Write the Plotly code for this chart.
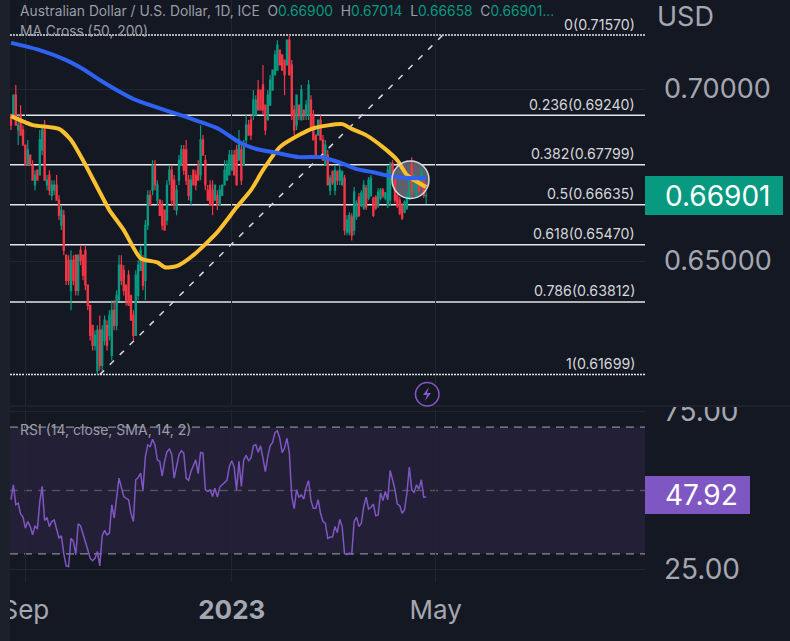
import pandas as pd
import plotly.graph_objects as go

# Daily AUD/USD session values
opens = [
    .6924, .6924, .6982, .6881, .6924, .6881, .6837, .6779, .6808, .6779,
    .6721, .6764, .6750, .6823, .6881, .6721, .6750, .6691, .6706, .6721,
    .6677, .6604, .6633, .6517, .6502, .6415, .6502, .6517, .6415, .6531,
    .6517, .6531, .6430, .6371, .6313, .6255, .6182, .6299, .6197, .6269,
    .6313, .6284, .6226, .6357, .6313, .6386, .6488, .6473, .6430, .6459,
    .6400, .6342, .6284, .6400, .6473, .6502, .6444, .6604, .6691, .6706,
    .6779, .6677, .6677, .6662, .6648, .6619, .6735, .6764, .6735, .6648,
    .6735, .6779, .6823, .6823, .6735, .6677, .6764, .6750, .6779, .6750,
    .6852, .6793, .6706, .6721, .6706, .6677, .6691, .6662, .6691, .6721,
    .6735, .6750, .6764, .6808, .6823, .6793, .6823, .6779, .6852, .6895,
    .6910, .6924, .6924, .6997, .6997, .7012, .6953, .6910, .6953, .6997,
    .7041, .7055, .7113, .7099, .7084, .7070, .7142, .7070, .6939, .6895,
    .6953, .6910, .6939, .6924, .6924, .6968, .6924, .6866, .6866, .6910,
    .6852, .6779, .6808, .6706, .6759, .6706, .6759, .6735, .6721, .6741,
    .6584, .6584, .6628, .6590, .6628, .6686, .6662, .6654, .6712, .6683,
    .6691, .6683, .6686, .6662, .6683, .6706, .6683, .6662, .6677, .6785,
    .6735, .6691, .6677, .6662, .6642, .6654, .6683, .6779, .6706, .6691,
    .6730, .6721, .6730, .66900,
]
highs = [
    .6924, .6982, .7012, .6924, .6953, .6895, .6837, .6852, .6808, .6793,
    .6764, .6764, .6881, .6895, .6910, .6750, .6764, .6735, .6735, .6750,
    .6691, .6662, .6648, .6517, .6517, .6531, .6517, .6517, .6517, .6546,
    .6517, .6546, .6430, .6371, .6313, .6299, .6313, .6342, .6313, .6342,
    .6328, .6357, .6386, .6386, .6415, .6517, .6517, .6488, .6430, .6473,
    .6400, .6357, .6473, .6502, .6546, .6517, .6619, .6706, .6706, .6793,
    .6793, .6735, .6677, .6677, .6648, .6735, .6779, .6779, .6750, .6721,
    .6808, .6837, .6837, .6852, .6750, .6750, .6764, .6764, .6793, .6895,
    .6866, .6808, .6721, .6735, .6735, .6721, .6706, .6721, .6721, .6793,
    .6793, .6823, .6823, .6823, .6837, .6881, .6837, .6852, .6924, .6910,
    .6924, .6997, .6982, .7026, .6997, .7070, .6953, .6997, .7041, .7055,
    .7113, .7142, .7113, .7099, .7084, .7142, .7157, .7084, .6953, .6982,
    .6953, .7012, .6939, .6968, .7026, .6982, .6939, .6866, .6910, .6924,
    .6866, .6852, .6823, .6750, .6764, .6779, .6764, .6779, .6764, .6750,
    .6633, .6642, .6639, .6715, .6677, .6698, .6706, .6735, .6721, .6744,
    .6750, .6686, .6691, .6712, .6712, .6712, .6701, .6779, .6788, .6793,
    .6744, .6698, .6686, .6668, .6677, .6698, .6741, .6802, .6756, .6741,
    .6735, .6770, .6735, .67014,
]
lows = [
    .6881, .6924, .6895, .6837, .6866, .6837, .6779, .6779, .6779, .6735,
    .6706, .6735, .6750, .6808, .6735, .6706, .6691, .6677, .6691, .6677,
    .6619, .6590, .6517, .6430, .6430, .6357, .6430, .6400, .6400, .6488,
    .6444, .6415, .6357, .6269, .6240, .6240, .6170, .6182, .6182, .6255,
    .6240, .6269, .6211, .6299, .6299, .6386, .6430, .6400, .6371, .6371,
    .6328, .6269, .6284, .6386, .6473, .6415, .6386, .6590, .6662, .6691,
    .6706, .6662, .6633, .6590, .6590, .6604, .6721, .6662, .6648, .6633,
    .6721, .6779, .6750, .6721, .6677, .6662, .6721, .6706, .6735, .6735,
    .6808, .6706, .6677, .6662, .6633, .6677, .6648, .6662, .6691, .6721,
    .6735, .6750, .6764, .6750, .6721, .6793, .6721, .6779, .6837, .6866,
    .6852, .6910, .6924, .6939, .6939, .6924, .6866, .6910, .6953, .6997,
    .7041, .7055, .7070, .7055, .6982, .7070, .7041, .6910, .6866, .6881,
    .6910, .6910, .6910, .6910, .6910, .6881, .6852, .6808, .6866, .6852,
    .6793, .6779, .6721, .6691, .6721, .6691, .6721, .6721, .6721, .6575,
    .6575, .6575, .6560, .6575, .6619, .6628, .6657, .6648, .6648, .6677,
    .6686, .6628, .6648, .6654, .6677, .6683, .6677, .6654, .6662, .6735,
    .6668, .6654, .6633, .6619, .6639, .6648, .6677, .6691, .6698, .6686,
    .6698, .6712, .6683, .66658,
]
closes = [
    .6895, .6982, .6895, .6895, .6866, .6837, .6779, .6823, .6779, .6735,
    .6750, .6735, .6852, .6881, .6735, .6735, .6706, .6721, .6721, .6677,
    .6633, .6648, .6531, .6444, .6444, .6502, .6444, .6415, .6517, .6502,
    .6459, .6430, .6371, .6284, .6255, .6284, .6299, .6197, .6299, .6328,
    .6255, .6342, .6357, .6313, .6400, .6488, .6444, .6415, .6386, .6371,
    .6328, .6284, .6459, .6488, .6531, .6430, .6604, .6691, .6662, .6779,
    .6721, .6721, .6633, .6604, .6590, .6721, .6764, .6677, .6662, .6706,
    .6793, .6823, .6764, .6735, .6691, .6735, .6721, .6721, .6735, .6852,
    .6808, .6721, .6677, .6662, .6662, .6721, .6662, .6706, .6721, .6764,
    .6779, .6808, .6808, .6750, .6721, .6852, .6735, .6837, .6895, .6866,
    .6866, .6968, .6968, .6939, .6939, .6939, .6881, .6982, .7026, .7055,
    .7099, .7128, .7070, .7055, .7041, .7142, .7041, .6924, .6881, .6982,
    .6924, .6997, .6924, .6953, .7012, .6881, .6852, .6808, .6910, .6852,
    .6793, .6837, .6721, .6741, .6727, .6764, .6735, .6764, .6759, .6590,
    .6619, .6633, .6575, .6701, .6668, .6633, .6698, .6721, .6657, .6735,
    .6741, .6633, .6654, .6701, .6706, .6689, .6698, .6764, .6779, .6741,
    .6677, .6660, .6639, .6625, .6671, .6689, .6730, .6701, .6747, .6735,
    .6704, .6759, .6691, .66901,
]

# RSI (14) per session
rsi_values = [
    47.1, 51.8, 45.5, 46.0, 42.6, 41.6, 38.1, 40.2, 38.6, 36.0,
    38.9, 37.8, 46.5, 51.3, 40.5, 41.5, 38.6, 40.2, 40.7, 37.8,
    34.9, 35.7, 30.0, 26.2, 26.0, 34.9, 33.9, 29.7, 39.5, 38.8,
    36.5, 33.9, 31.3, 28.6, 27.8, 28.6, 30.7, 26.2, 35.7, 37.4,
    36.0, 36.5, 45.5, 41.3, 47.1, 53.9, 51.0, 48.1, 47.5, 47.1,
    42.8, 40.2, 53.4, 54.1, 55.5, 50.2, 60.7, 64.4, 63.9, 66.2,
    64.4, 59.7, 59.2, 54.6, 59.2, 62.3, 63.1, 61.3, 53.9, 57.1,
    61.3, 62.6, 61.8, 53.9, 53.2, 56.0, 58.1, 59.7, 55.3, 62.0,
    61.8, 50.2, 49.7, 50.2, 48.1, 50.7, 47.9, 51.0, 51.8, 52.5,
    53.2, 57.6, 59.4, 57.4, 50.2, 59.2, 51.3, 59.7, 61.1, 59.4,
    60.2, 64.1, 64.5, 62.1, 64.1, 60.2, 56.0, 60.7, 64.1, 65.2,
    68.3, 68.9, 66.5, 62.0, 63.4, 66.5, 61.8, 48.1, 44.3, 50.2,
    47.9, 48.6, 47.3, 51.0, 53.1, 46.8, 44.4, 44.4, 47.1, 42.8,
    40.2, 39.7, 34.9, 35.3, 35.3, 38.6, 36.7, 40.9, 38.6, 30.0,
    29.7, 30.2, 29.9, 40.2, 41.6, 38.6, 39.7, 44.9, 47.9, 44.1,
    44.7, 45.7, 42.0, 42.3, 49.2, 46.8, 49.7, 47.1, 56.3, 53.4,
    50.4, 45.7, 45.2, 42.8, 43.9, 49.2, 57.4, 50.2, 49.4, 51.8,
    50.4, 53.4, 47.9, 47.92,
]

# Moving averages, listed at selected session numbers
ma200_sessions = [1, 13, 24, 31, 38, 45, 52, 59, 73, 87, 96, 102, 112, 121, 130, 135, 139, 145, 152, 159, 167, 174]
ma200_values = [.7134, .7113, .7084, .7058, .7026, .6997, .6971, .6953, .6921, .6886, .6846,
                .6828, .6814, .6802, .6802, .6793, .6784, .6767, .6758, .6747, .6741, .6741]
ma50_sessions = [1, 10, 21, 26, 31, 38, 42, 48, 55, 62, 65, 70, 77, 87, 95, 101, 106, 113,
                 121, 127, 139, 143, 149, 156, 162, 166, 174]
ma50_values = [.6921, .6895, .6884, .6852, .6793, .6700, .6648, .6590, .6508, .6496, .6482, .6485, .6517,
               .6584, .6656, .6706, .6764, .6831, .6866, .6886, .6898, .6884, .6866, .6831, .6793, .6750, .6715]

# Fibonacci retracement levels
fib_ratios = ["0", "0.236", "0.382", "0.5", "0.618", "0.786", "1"]
fib_levels = [0.71570, 0.69240, 0.67799, 0.66635, 0.65470, 0.63812, 0.61699]

trend_dates = ["2022-10-14", "2023-05-04"]
trend_prices = [0.61699, 0.71570]

price_ticks = [0.65, 0.70]
rsi_ticks = [25, 75]
rsi_bands = [30, 50, 70]
month_ticks = ["2022-09-01", "2023-01-02", "2023-05-01"]
month_labels = ["Sep", "<b>2023</b>", "May"]

sessions = pd.bdate_range("2022-08-24", periods=175)
sessions = sessions[sessions != pd.Timestamp("2022-12-26")]

BG = "#141823"
STRIP = "#1c202b"
GRID = "#212530"
UP = "#089981"
DOWN = "#f23645"
AXIS_TEXT = "#a4a7b1"
LABEL = "#9a9da6"
BADGE = "#8a55c9"
FONT = "Inter"
W, H = 790, 641


def py(pixels):
    """Vertical paper coordinate for a distance from the top of the page."""
    return 1 - pixels / H


def px(pixels):
    return pixels / W


def bolt_path(points):
    """SVG path in paper coordinates for a closed outline given in page pixels."""
    parts = [f"{px(x):.5f},{py(y):.5f}" for x, y in points]
    return "M" + " L".join(parts) + " Z"


fig = go.Figure()

fig.add_trace(go.Candlestick(
    x=sessions, open=opens, high=highs, low=lows, close=closes,
    increasing=dict(line=dict(color=UP, width=1.2), fillcolor=UP),
    decreasing=dict(line=dict(color=DOWN, width=1.2), fillcolor=DOWN),
    whiskerwidth=0, xaxis="x", yaxis="y", showlegend=False,
))
fig.add_trace(go.Scatter(
    x=trend_dates, y=trend_prices, mode="lines",
    line=dict(color="#d9dade", width=1.5, dash="6px,8px"),
    xaxis="x", yaxis="y", showlegend=False,
))
fig.add_trace(go.Scatter(
    x=[sessions[i - 1] for i in ma50_sessions], y=ma50_values, mode="lines",
    line=dict(color="#fbc02d", width=4, shape="spline", smoothing=0.6),
    xaxis="x", yaxis="y", showlegend=False,
))
fig.add_trace(go.Scatter(
    x=[sessions[i - 1] for i in ma200_sessions], y=ma200_values, mode="lines",
    line=dict(color="#2f62f2", width=4, shape="spline", smoothing=0.6),
    xaxis="x", yaxis="y", showlegend=False,
))
fig.add_trace(go.Scatter(
    x=sessions, y=rsi_values, mode="lines",
    line=dict(color="#7e57c2", width=1.5),
    xaxis="x2", yaxis="y2", showlegend=False,
))

shapes = [
    # Left strip, pane separator and clip above the lower scale
    dict(type="rect", xref="paper", yref="paper", x0=0, x1=px(10), y0=0, y1=1,
         fillcolor=STRIP, line_width=0, layer="above"),
    dict(type="rect", xref="paper", yref="paper", x0=px(645), x1=1, y0=py(405), y1=py(385),
         fillcolor=BG, line_width=0, layer="above"),
    dict(type="line", xref="paper", yref="paper", x0=px(10), x1=1, y0=py(406), y1=py(406),
         line=dict(color="#1d212c", width=2), layer="above"),
    # RSI channel
    dict(type="rect", xref="x2 domain", yref="y2", x0=0, x1=1, y0=rsi_bands[0], y1=rsi_bands[2],
         fillcolor="#221f36", line_width=0, layer="below"),
    dict(type="line", xref="x2 domain", yref="y2", x0=0, x1=1, y0=rsi_bands[0], y1=rsi_bands[0],
         line=dict(color="#8b8995", width=1.3, dash="8px,6px"), layer="below"),
    dict(type="line", xref="x2 domain", yref="y2", x0=0, x1=1, y0=rsi_bands[1], y1=rsi_bands[1],
         line=dict(color="#55525f", width=1.3, dash="8px,6px"), layer="below"),
    dict(type="line", xref="x2 domain", yref="y2", x0=0, x1=1, y0=rsi_bands[2], y1=rsi_bands[2],
         line=dict(color="#8b8995", width=1.3, dash="8px,6px"), layer="below"),
    # Alert badge
    dict(type="circle", xref="paper", yref="paper",
         x0=px(415.5), x1=px(439), y0=py(406), y1=py(382.5),
         fillcolor=BG, line=dict(color=BADGE, width=1.5), layer="above"),
    dict(type="path", xref="paper", yref="paper",
         path=bolt_path([(429, 387), (423, 395), (427, 395), (425, 401), (431, 393), (427, 393)]),
         fillcolor=BADGE, line_width=0, layer="above"),
    # Last-value tags
    dict(type="rect", xref="paper", yref="paper", x0=px(645), x1=px(783), y0=py(215), y1=py(176),
         fillcolor="#089981", line_width=0, layer="above"),
    dict(type="rect", xref="paper", yref="paper", x0=px(645), x1=px(750), y0=py(514), y1=py(476),
         fillcolor="#7e57c2", line_width=0, layer="above"),
]

annotations = []
for ratio, level in zip(fib_ratios, fib_levels):
    dotted = ratio in ("0", "1")
    shapes.append(dict(
        type="line", xref="x domain", yref="y", x0=0, x1=1, y0=level, y1=level,
        line=dict(color="#e4e5e8", width=1.5, dash="2px,1px" if dotted else "solid"),
        layer="below",
    ))
    annotations.append(dict(
        xref="paper", yref="y", x=px(637), y=level, yshift=11, xanchor="right", yanchor="middle",
        text=f"{ratio}({level:.5f})", showarrow=False,
        font=dict(family=FONT, size=14.2, color="#d5d6da"),
    ))

# Highlight round the moving-average crossing: fill behind the candles, ring on top
shapes.append(dict(type="circle", xref="paper", yref="paper",
                   x0=px(392), x1=px(429), y0=py(198.5), y1=py(161),
                   fillcolor="#5d606c", line_width=0, layer="below"))
shapes.append(dict(type="circle", xref="paper", yref="paper",
                   x0=px(392), x1=px(429), y0=py(198.5), y1=py(161),
                   line=dict(color="#d8d9dd", width=1.5), layer="above"))


def label(x, y, text, size, color, anchor="left"):
    annotations.append(dict(
        xref="paper", yref="paper", x=px(x), y=py(y), xanchor=anchor, yanchor="middle",
        text=text, showarrow=False, font=dict(family=FONT, size=size, color=color),
    ))


def value(text):
    return f"<span style='color:{UP}'>{text}</span>"


label(18, 11,
      "Australian Dollar / U.S. Dollar, 1D, ICE  O" + value("0.66900") + "  H" + value("0.67014")
      + "  L" + value("0.66658") + "  C" + value("0.66901..."), 13.8, LABEL)
label(18, 31, "MA Cross (50, 200)", 13.8, LABEL)
label(18, 429, "RSI (14, close, SMA, 14, 2)", 14, LABEL)
label(655, 16.5, "USD", 27, AXIS_TEXT)
label(717, 196, "0.66901", 28, "#ffffff", "center")
label(701, 495, "47.92", 28, "#ffffff", "center")

x_range = ["2022-08-23 14:00", "2023-08-30 05:00"]
x_common = dict(
    type="date", range=x_range, rangebreaks=[dict(bounds=["sat", "mon"]), dict(values=["2022-12-26"])],
    tickmode="array", tickvals=month_ticks, ticktext=month_labels, automargin=False,
    showgrid=True, gridcolor=GRID, gridwidth=1, zeroline=False, showline=False,
    rangeslider=dict(visible=False), ticks="",
)

PX_PER_PRICE = 0.09871 / 339.6
fig.update_layout(
    width=W, height=H, autosize=False,
    margin=dict(l=0, r=0, t=0, b=0, autoexpand=False),
    paper_bgcolor=BG, plot_bgcolor=BG,
    showlegend=False, hovermode=False,
    shapes=shapes, annotations=annotations,
    xaxis=dict(domain=[px(10), px(645)], anchor="y", showticklabels=False, **x_common),
    xaxis2=dict(domain=[px(10), px(645)], anchor="y2", showticklabels=True,
                tickfont=dict(family=FONT, size=26, color=AXIS_TEXT), ticklabelstandoff=10, **x_common),
    yaxis=dict(
        domain=[py(405), 1], anchor="x", side="right", automargin=False,
        range=[0.71570 - 370 * PX_PER_PRICE, 0.71570 + 35 * PX_PER_PRICE],
        tickmode="array", tickvals=price_ticks, tickformat=".5f",
        tickfont=dict(family=FONT, size=27, color=AXIS_TEXT), ticklabelstandoff=18,
        showgrid=True, gridcolor=GRID, zeroline=False, showline=False, ticks="",
    ),
    yaxis2=dict(
        domain=[py(582), py(409)], anchor="x2", side="right", automargin=False,
        range=[21.09, 75.75],
        tickmode="array", tickvals=rsi_ticks, tickformat=".2f",
        tickfont=dict(family=FONT, size=28, color=AXIS_TEXT), ticklabelstandoff=18,
        showgrid=True, gridcolor=GRID, zeroline=False, showline=False, ticks="",
    ),
)

fig.write_html("out.html")
